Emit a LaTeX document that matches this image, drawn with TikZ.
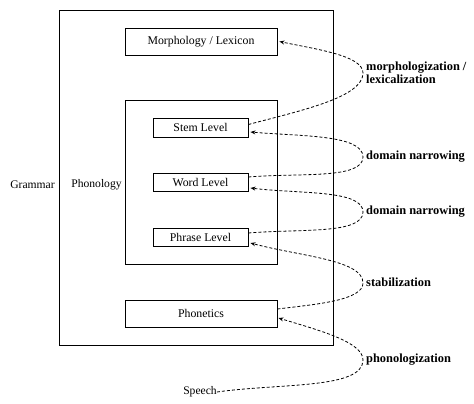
\documentclass[tikz,border=0pt]{standalone}
\usepackage{fontspec}
\setmainfont{Liberation Serif}
\usetikzlibrary{arrows.meta}
\begin{document}
\begin{tikzpicture}[x=1pt,y=-1pt,
  box/.style={draw, line width=0.9pt, inner sep=0pt, font=\fontsize{11.8}{13}\selectfont},
  plain/.style={inner sep=0pt, font=\fontsize{11.6}{13}\selectfont},
  proc/.style={inner sep=0pt, anchor=west, align=left, font=\fontsize{12.4}{13.5}\selectfont\bfseries},
  link/.style={line width=0.8pt, dash pattern=on 3pt off 2pt, -{Stealth[length=5pt,width=4pt]}},
  up/.style={out=90, out looseness=0.5, in looseness=1.1},
  down/.style={in=-90, in looseness=0.5, out looseness=1.1}]
\useasboundingbox (0,0) rectangle (474,404);
% boxes
\node[box, minimum width=274pt, minimum height=335pt] (grammar) at (196,177.5) {};
\node[box, minimum width=152pt, minimum height=27pt] (morph) at (201,41.5) {Morphology / Lexicon};
\node[box, minimum width=152pt, minimum height=164pt] (phon) at (201,182) {};
\node[box, minimum width=95pt, minimum height=19pt] (stem) at (200.5,127.5) {Stem Level};
\node[box, minimum width=95pt, minimum height=18pt] (word) at (200.5,182) {Word Level};
\node[box, minimum width=95pt, minimum height=18pt] (phrase) at (200.5,237) {Phrase Level};
\node[box, minimum width=152pt, minimum height=27pt] (phonetics) at (201,313.5) {Phonetics};
% labels
\node[plain] (glab) at (32.5,185) {Grammar};
\node[plain] (plab) at (96.5,185) {Phonology};
\node[plain] (speech) at (200,392) {Speech};
\node[proc] (l1) at (366,73) {morphologization /\\lexicalization};
\node[proc] (l2) at (366,157) {domain narrowing};
\node[proc] (l3) at (366,212) {domain narrowing};
\node[proc] (l4) at (366,282) {stabilization};
\node[proc] (l5) at (366,360) {phonologization};
% apexes
\coordinate (a1) at (363,73);
\coordinate (a2) at (363,157);
\coordinate (a3) at (363,212);
\coordinate (a4) at (363,283);
\coordinate (a5) at (363,360);
% connectors
\draw[link] ([yshift=3pt]stem.east) to[down, out=15] (a1) to[up, in=-12] ([xshift=2pt]morph.east);
\draw[link] ([yshift=5pt]word.east) to[down, out=5] (a2) to[up, in=-5] ([xshift=2pt,yshift=-4.5pt]stem.east);
\draw[link] ([yshift=4pt]phrase.east) to[down, out=5] (a3) to[up, in=-7] ([xshift=2pt,yshift=-6pt]word.east);
\draw[link] ([yshift=4.5pt]phonetics.east) to[down, out=7] (a4) to[up, in=-15] ([xshift=2pt,yshift=-6pt]phrase.east);
\draw[link] (speech.east) to[down, out=8] (a5) to[up, in=-17] ([xshift=1pt,yshift=-4.5pt]phonetics.east);
\end{tikzpicture}
\end{document}
